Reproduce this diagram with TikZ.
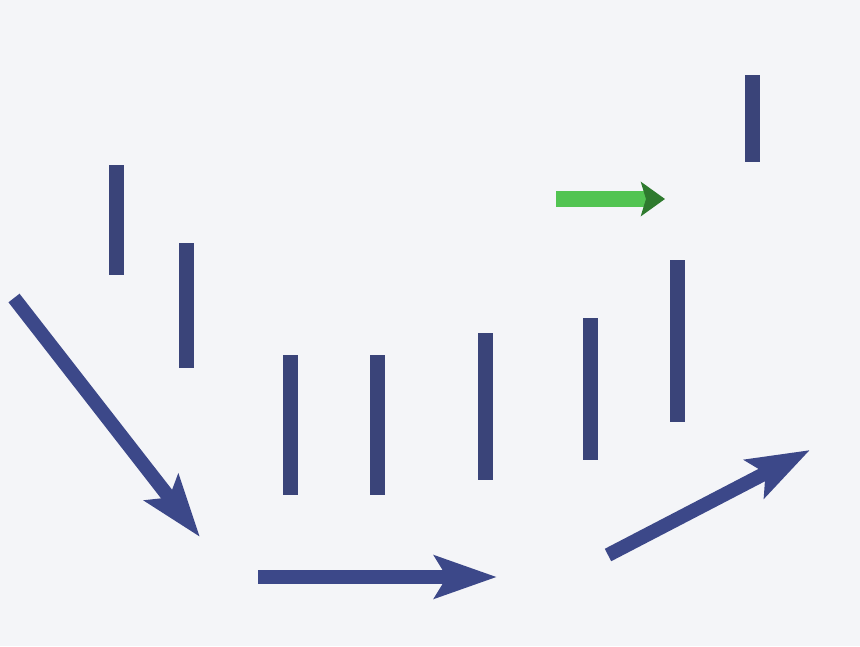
\documentclass[tikz,border=0pt]{standalone}
\usepackage{xcolor}
\usetikzlibrary{arrows.meta}
\definecolor{bgcol}{HTML}{F4F5F8}
\definecolor{barblue}{HTML}{3A4479}
\definecolor{arrblue}{HTML}{3C4889}
\definecolor{litgreen}{HTML}{52C452}
\definecolor{drkgreen}{HTML}{2E7A2E}

\begin{document}
\begin{tikzpicture}[x=1pt,y=-1pt,
  bar/.style={line width=15pt,barblue},
  arr/.style={line width=14pt,arrblue,-{Stealth[length=62pt,width=42pt,inset=12pt]}}]
  \fill[bgcol] (0,0) rectangle (860,646);
  \useasboundingbox (0,0) rectangle (860,646);
  % vertical bars
  \foreach \x/\t/\b in {116/165/275,186/243/368,290/355/495,377/355/495,485/333/480,590/318/460,677/260/422,752/75/162}{\draw[bar] (\x,\t) -- (\x,\b);}
  % arrows
  \coordinate (d1) at (14,298); \coordinate (d2) at (200,537);
  \coordinate (h1) at (258,577); \coordinate (h2) at (497,577);
  \coordinate (u1) at (608,555); \coordinate (u2) at (810,450);
  \draw[arr] (d1) -- (d2);
  \draw[arr] (h1) -- (h2);
  \draw[arr] (u1) -- (u2);
  % green arrow
  \coordinate (g1) at (556,199); \coordinate (g2) at (665,199);
  \draw[line width=16pt,litgreen,-{Stealth[length=24pt,width=34pt,inset=5pt,drkgreen]}] (g1) -- (g2);
\end{tikzpicture}
\end{document}
